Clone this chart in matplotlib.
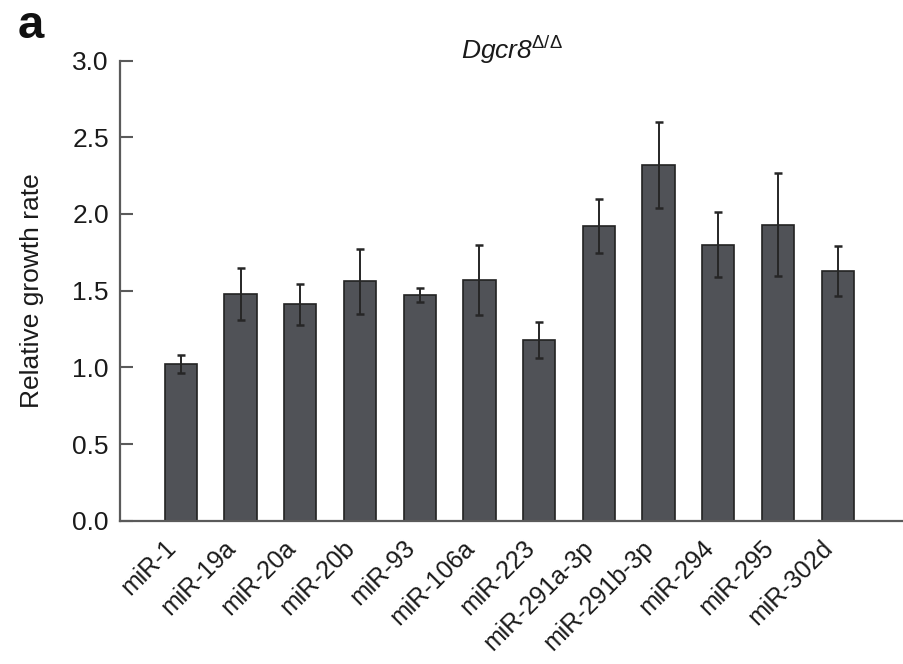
import matplotlib
matplotlib.use("Agg")
import matplotlib.pyplot as plt
import numpy as np

# Relative growth rate of Dgcr8 knockout cells after miRNA transfection
mirnas = ["miR-1", "miR-19a", "miR-20a", "miR-20b", "miR-93", "miR-106a",
          "miR-223", "miR-291a-3p", "miR-291b-3p", "miR-294", "miR-295", "miR-302d"]
growth_rate = [1.02, 1.48, 1.41, 1.56, 1.47, 1.57, 1.18, 1.92, 2.32, 1.80, 1.93, 1.63]
growth_err = [0.06, 0.17, 0.135, 0.21, 0.047, 0.23, 0.117, 0.174, 0.28, 0.21, 0.335, 0.163]
y_ticks = [0.0, 0.5, 1.0, 1.5, 2.0, 2.5, 3.0]

plt.rcParams["font.family"] = ["Liberation Sans", "DejaVu Sans"]
plt.rcParams["mathtext.fontset"] = "custom"
plt.rcParams["mathtext.it"] = "Liberation Sans:italic"
plt.rcParams["mathtext.rm"] = "Liberation Sans"

W, H = 904, 664
fig = plt.figure(figsize=(W / 100, H / 100), dpi=100)
left_px, right_px, top_px, bottom_px = 120, 904, 60.5, 520.7
ax = fig.add_axes([left_px / W, 1 - bottom_px / H,
                   (right_px - left_px) / W, (bottom_px - top_px) / H])

x = np.arange(len(mirnas))
ax.bar(x, growth_rate, width=0.54, color="#505257", edgecolor="#222222",
       linewidth=1.2, zorder=2)
ax.errorbar(x, growth_rate, yerr=growth_err, fmt="none", ecolor="#262626",
            elinewidth=1.4, capsize=3, capthick=1.8, zorder=3)

ax.set_xlim(-1.02, 12.11)
ax.set_ylim(0, 3.0)
ax.set_yticks(y_ticks)
ax.set_yticklabels([f"{v:.1f}" for v in y_ticks])
ax.set_xticks(x)
ax.set_xticklabels(mirnas, rotation=45, ha="right", rotation_mode="default")

for side in ("top", "right"):
    ax.spines[side].set_visible(False)
for side in ("left", "bottom"):
    ax.spines[side].set_color("#5a5a5a")
    ax.spines[side].set_linewidth(1.6)

ax.tick_params(axis="y", direction="in", length=9.5, width=1.5, color="#5a5a5a",
               labelsize=19, pad=8, labelcolor="#1a1a1a")
ax.tick_params(axis="x", length=0, labelsize=18, pad=11, labelcolor="#1a1a1a")

ax.set_ylabel("Relative growth rate", fontsize=19, color="#1a1a1a")
ax.yaxis.set_label_coords(-76 / (right_px - left_px), 0.5)

fig.text(512 / W, 1 - 59 / H, r"Dgcr8$^{\mathrm{\Delta/\Delta}}$",
         ha="center", va="baseline", fontsize=19, fontstyle="italic",
         color="#1a1a1a")
fig.text(18 / W, 1 - 38 / H, "a", fontsize=34, fontweight="bold",
         ha="left", va="baseline", color="#111111")

fig.savefig("out.png", dpi=100)
